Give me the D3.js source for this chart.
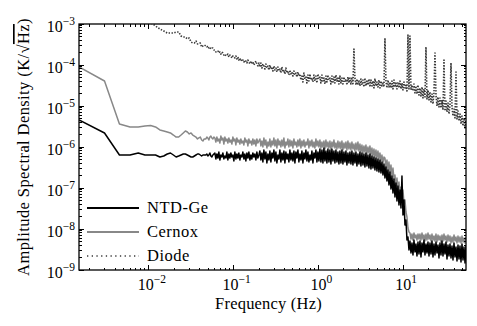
<!DOCTYPE html>
<meta charset="utf-8">
<style>
body { margin: 0; background: #fff; }
text { font-family: "Liberation Serif", serif; fill: #000; }
</style>
<svg width="477" height="326"></svg>
<script src="https://d3js.org/d3.v7.min.js"></script>
<script>

// frequency grid: first 30 FFT bins (k * df), then a log grid up to Nyquist
var df = 0.0015;
var lowBins = d3.range(1, 31).map(function(k) { return k * df; });
var fDense0 = 0.0471, fDense1 = 55.3, nDense = 261;
var denseBins = d3.range(nDense).map(function(i) {
  return fDense0 * Math.pow(fDense1 / fDense0, i / (nDense - 1));
});
var freqs = lowBins.concat(denseBins);

// amplitude spectral densities, in nK/sqrt(Hz)
var ntdGe = [
  4560,2200,638,638,714,638,638,638,570,603,
  675,714,638,570,603,638,675,675,638,603,
  570,570,603,638,675,675,638,603,638,638,
  // dense part
  638,675,603,638,714,603,570,638,675,
  714,510,675,539,755,482,638,570,714,510,
  603,539,755,482,675,539,714,570,638,456,
  755,510,675,539,714,482,638,570,755,510,
  675,456,714,539,755,482,638,510,714,570,
  675,482,755,539,638,
  799,482,714,431,845,510,755,407,675,482,
  799,431,714,539,845,456,755,407,638,510,
  845,431,714,482,799,407,755,510,675,431,
  845,482,714,456,799,407,755,539,845,431,
  675,482,799,407,714,510,845,456,755,431,
  638,482,799,407,714,539,845,431,755,456,
  894,431,845,407,945,456,799,407,894,431,
  845,385,894,456,799,407,845,431,755,385,
  799,407,845,385,755,431,799,364,714,407,
  755,385,799,364,714,407,755,344,675,385,
  755,344,714,364,675,325,714,344,638,308,
  675,291,603,308,570,275,539,260,510,246,
  482,232,431,208,385,
  175,325,148,275,118,246,94.5,196,75.5,166,
  60.3,132,48.2,112,38.5,89.4,32.5,196,22,51,
  12.5,16.6,5.39,6.38,3.08,
  5.1,2.6,4.56,2.32,5.39,2.75,4.31,2.2,4.82,2.46,
  5.1,2.08,4.56,2.75,5.39,2.32,4.31,2.6,4.82,2.2,
  4.56,2.46,5.1,2.08,4.31,2.32,4.82,2.6,4.07,1.96,
  4.56,2.32,5.1,2.2,4.31,2.46,4.82,1.85,4.07,2.2,
  4.31,1.96,3.85,1.75,4.56,2.08,3.64,1.66,4.07,1.85,
  3.85,1.57,4.31,1.75,3.64,1.48,3.85
];

var cernox = [
  89400,40700,3640,3080,3080,3250,3340,3080,2600,2460,
  2320,2200,1960,1750,1750,1960,2200,2460,2320,2080,
  2200,1960,1850,1750,1570,1660,1750,1480,1400,1570,
  // dense part
  1570,1750,1660,1480,1750,1850,1660,1570,1750,
  1660,1320,1750,1400,1570,1250,1850,1480,1660,1180,
  1750,1400,1570,1250,1660,1320,1480,1180,1750,1400,
  1570,1120,1660,1320,1480,1180,1570,1250,1400,1120,
  1660,1320,1480,1060,1570,1250,1400,1120,1570,1180,
  1480,1060,1570,1250,1400,
  1570,1060,1400,1000,1660,1120,1480,945,1320,1060,
  1570,1000,1400,1120,1660,1060,1480,945,1570,1120,
  1400,1000,1480,1060,1660,945,1320,1120,1570,1000,
  1480,1060,1400,945,1570,1120,1320,1000,1480,1060,
  1570,945,1400,1060,1480,1000,1320,1120,1570,945,
  1400,1060,1480,1000,1320,945,1570,1060,1400,1000,
  1480,945,1320,1000,1400,894,1480,1000,1320,945,
  1400,894,1320,1000,1480,945,1250,894,1400,945,
  1320,894,1400,845,1250,945,1320,845,1400,894,
  1250,845,1320,894,1180,799,1250,845,1320,799,
  1180,755,1120,714,1060,755,1120,675,1000,714,
  1060,638,945,603,894,570,845,539,799,510,
  714,456,638,407,570,
  539,308,482,260,431,232,364,196,308,166,
  208,112,175,89.4,140,67.5,106,53.9,89.4,43.1,
  51,26,19.6,10.6,8.45,
  7.99,5.7,7.55,5.39,7.99,6.03,7.14,5.39,7.55,5.7,
  7.55,5.39,7.99,5.7,7.14,5.1,7.55,5.39,7.99,5.7,
  7.14,5.1,7.55,5.39,6.75,5.1,7.55,4.82,7.14,5.39,
  6.75,4.82,7.14,5.1,7.55,5.39,6.75,4.82,7.14,5.1,
  6.75,4.56,6.38,4.82,7.14,5.1,6.38,4.56,6.75,4.82,
  6.38,4.56,6.75,4.82,6.03,4.56,6.38
];

var diode = [
  3500000,2400000,1900000,1600000,1400000,1250000,1080000,894000,755000,675000,
  603000,603000,603000,638000,638000,510000,482000,482000,431000,456000,
  364000,344000,344000,385000,325000,325000,344000,275000,291000,308000,
  // dense part
  291000,275000,291000,260000,275000,246000,260000,260000,232000,
  232000,208000,220000,220000,196000,208000,185000,208000,196000,175000,
  185000,166000,175000,185000,157000,175000,166000,148000,166000,157000,
  148000,166000,140000,157000,132000,148000,125000,140000,132000,118000,
  132000,125000,112000,132000,118000,106000,125000,112000,118000,100000,
  112000,125000,106000,94500,112000,
  89400,112000,84500,106000,94500,79900,106000,84500,94500,75500,
  100000,79900,89400,71400,94500,75500,84500,67500,89400,71400,
  79900,63800,89400,67500,75500,60300,84500,63800,71400,57000,
  75500,60300,67500,53900,71400,57000,63800,51000,67500,53900,
  60300,43100,53900,38500,63800,45600,51000,36400,57000,40700,
  60300,43100,48200,38500,57000,40700,53900,36400,60300,45600,
  51000,36400,57000,40700,48200,34400,53900,38500,57000,43100,
  48200,34400,53900,38500,51000,36400,57000,40700,48200,34400,
  53900,36400,48200,34400,51000,38500,45600,32500,51000,36400,
  48200,34400,51000,32500,
  246000,
  48200,32500,45600,34400,43100,
  30800,45600,32500,43100,29100,48200,30800,40700,32500,45600,
  29100,43100,30800,40700,27500,45600,30800,38500,29100,43100,
  27500,40700,30800,38500,29100,
  456000,
  40700,27500,43100,29100,
  38500,27500,40700,26000,43100,29100,36400,26000,38500,27500,
  40700,26000,36400,24600,38500,27500,34400,23200,539000,26000,
  510000,24600,32500,23200,34400,20800,30800,19600,32500,18500,
  27500,17500,29100,15700,26000,16600,275000,14800,24600,14000,
  22000,12500,19600,11200,20800,196000,18500,10000,16600,9450,
  15700,8940,14000,7990,132000,7550,13200,7140,11800,6380,
  10600,112000,9450,5700,8450,5100,67500,4820,7550,4310,
  6380,3640,5700,3250,5100,2910,4560
];

var seriesNames = ["NTD-Ge", "Cernox", "Diode"];
var xTickExps = [-2, -1, 0, 1];
var yTickExps = [-9, -8, -7, -6, -5, -4, -3];

var svg = d3.select("svg");
var pLeft = 79, pRight = 466, pTop = 24, pBottom = 270;

var x = d3.scaleLog().domain([0.0015, 55.3]).range([pLeft, pRight]);
var y = d3.scaleLog().domain([1e-9, 1e-3]).range([pBottom, pTop]);
var nK = 1e-9;

svg.append("clipPath").attr("id", "clip")
  .append("rect")
    .attr("x", pLeft).attr("y", pTop)
    .attr("width", pRight - pLeft).attr("height", pBottom - pTop);

var series = [
  {name: seriesNames[0], values: ntdGe,  color: "#000",  width: 1.5, dash: null,      legendDash: null},
  {name: seriesNames[1], values: cernox, color: "#888",  width: 1.5, dash: null,      legendDash: null},
  {name: seriesNames[2], values: diode,  color: "#383838", width: 1.6, dash: "1.4,1.5", legendDash: "1.3,3.4"}
];

var line = d3.line()
    .x(function(d) { return x(d[0]); })
    .y(function(d) { return y(d[1] * nK); });

var gLines = svg.append("g").attr("clip-path", "url(#clip)");

// gray first so the black band sits on top of it
[1, 0, 2].forEach(function(i) {
  var s = series[i];
  var pts = s.values.map(function(v, j) { return [freqs[j], v]; });
  gLines.append("path")
      .attr("d", line(pts))
      .attr("fill", "none")
      .attr("stroke", s.color)
      .attr("stroke-width", s.width)
      .attr("stroke-linejoin", "round")
      .attr("stroke-dasharray", s.dash);
});

// frame
svg.append("rect")
    .attr("x", pLeft).attr("y", pTop)
    .attr("width", pRight - pLeft).attr("height", pBottom - pTop)
    .attr("fill", "none")
    .attr("stroke", "#000")
    .attr("stroke-width", 1.3);

function isMajor(v) {
  var l = Math.log10(v);
  return Math.abs(l - Math.round(l)) < 1e-6;
}

var gTicks = svg.append("g").attr("stroke", "#000").attr("stroke-width", 1)
    .attr("shape-rendering", "crispEdges");

x.ticks().forEach(function(t) {
  var px = x(t), len = isMajor(t) ? 5 : 2.5;
  gTicks.append("line").attr("x1", px).attr("x2", px).attr("y1", pBottom).attr("y2", pBottom - len);
  gTicks.append("line").attr("x1", px).attr("x2", px).attr("y1", pTop).attr("y2", pTop + len);
});

y.ticks().forEach(function(t) {
  var py = y(t), len = isMajor(t) ? 5 : 2.5;
  gTicks.append("line").attr("x1", pLeft).attr("x2", pLeft + len).attr("y1", py).attr("y2", py);
  gTicks.append("line").attr("x1", pRight).attr("x2", pRight - len).attr("y1", py).attr("y2", py);
});

function expText(e) { return e < 0 ? "\u2212" + (-e) : String(e); }

function powLabel(sel, e) {
  sel.append("tspan").text("10");
  sel.append("tspan").attr("dy", -7).attr("font-size", 11.5).text(expText(e));
}

xTickExps.forEach(function(e) {
  var t = svg.append("text")
      .attr("x", x(Math.pow(10, e)) + 3)
      .attr("y", 290)
      .attr("text-anchor", "middle")
      .attr("font-size", 16);
  powLabel(t, e);
});

yTickExps.forEach(function(e) {
  var t = svg.append("text")
      .attr("x", 75)
      .attr("y", y(Math.pow(10, e)) + 8)
      .attr("text-anchor", "end")
      .attr("font-size", 16);
  powLabel(t, e);
});

// axis titles
svg.append("text")
    .attr("x", (pLeft + pRight) / 2 - 4)
    .attr("y", 309)
    .attr("text-anchor", "middle")
    .attr("font-size", 16.5)
    .attr("letter-spacing", 0.2)
    .text("Frequency (Hz)");

var yl = svg.append("text")
    .attr("transform", "translate(29," + ((pTop + pBottom) / 2) + ") rotate(-90)")
    .attr("text-anchor", "middle")
    .attr("font-size", 16.5)
    .attr("letter-spacing", 0.4);
yl.append("tspan").text("Amplitude Spectral Density (K/\u221A");
yl.append("tspan").style("text-decoration", "overline").text("Hz");
yl.append("tspan").text(")");

// legend
var legend = svg.append("g");
series.forEach(function(s, i) {
  var ly = 208 + i * 24;
  legend.append("line")
      .attr("x1", 87).attr("x2", 139)
      .attr("y1", ly).attr("y2", ly)
      .attr("stroke", s.color)
      .attr("stroke-width", s.legendDash ? 1.3 : 2)
      .attr("stroke-dasharray", s.legendDash);
  legend.append("text")
      .attr("x", 147)
      .attr("y", ly + 5)
      .attr("font-size", 16.5)
      .attr("letter-spacing", 0.5)
      .text(s.name);
});

</script>
